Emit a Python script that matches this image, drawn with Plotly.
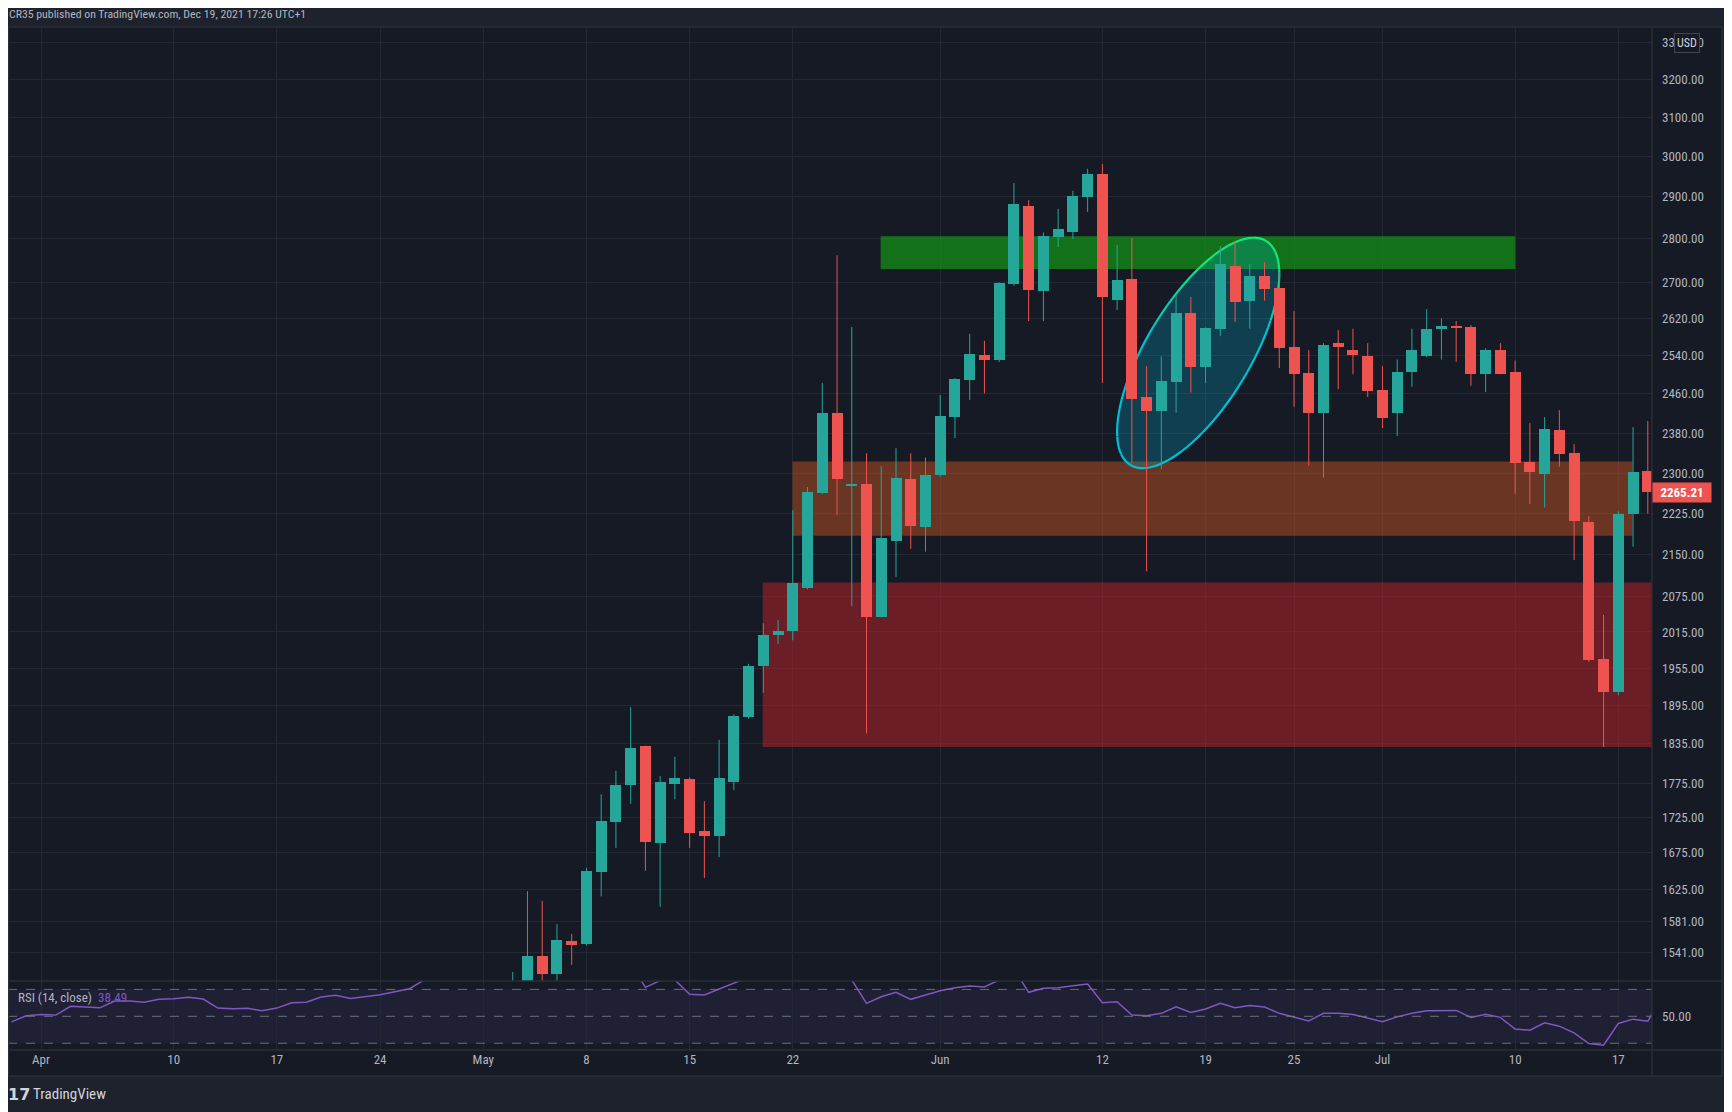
import math
import pandas as pd
import plotly.graph_objects as go

# ---------------- data ----------------
candle_dates = pd.date_range("2021-05-03", "2021-07-19", freq="D")

opens = [
    1470, 1480, 1536, 1513, 1556, 1552, 1649, 1719, 1773, 1831, 1689, 1774, 1782, 1706, 1699,
    1777, 1876, 1958, 2010, 2017, 2090, 2264, 2420, 2276, 2280, 2041, 2175, 2290, 2200,
    2297, 2413, 2488, 2540, 2531, 2697, 2878, 2680, 2805, 2815, 2900, 2956, 2660, 2707, 2453,
    2424, 2484, 2631, 2515, 2597, 2738, 2659, 2714, 2687, 2558, 2502, 2421, 2566, 2551, 2539,
    2467, 2421, 2504, 2538, 2596, 2603, 2601, 2501, 2551, 2505, 2323, 2300, 2386, 2340, 2209,
    1970, 1917, 2225, 2306,
]
highs = [
    1516, 1622, 1609, 1578, 1565, 1654, 1759, 1794, 1892, 1832, 1786, 1815, 1784, 1749, 1841,
    1881, 1962, 2030, 2035, 2231, 2275, 2482, 2762, 2601, 2340, 2315, 2350, 2340, 2332,
    2457, 2492, 2586, 2571, 2700, 2934, 2892, 2815, 2871, 2915, 2969, 2981, 2786, 2802, 2517,
    2538, 2674, 2667, 2600, 2783, 2793, 2742, 2746, 2725, 2636, 2551, 2566, 2594, 2597, 2566,
    2517, 2531, 2597, 2640, 2620, 2614, 2605, 2555, 2566, 2529, 2400, 2412, 2426, 2358, 2220,
    2044, 2229, 2392, 2404,
]
lows = [
    1440, 1465, 1495, 1500, 1525, 1550, 1615, 1682, 1745, 1650, 1601, 1752, 1682, 1640, 1669,
    1765, 1874, 1915, 1995, 2001, 2088, 2262, 2222, 2059, 1851, 2040, 2110, 2160, 2155,
    2295, 2370, 2447, 2460, 2526, 2692, 2614, 2614, 2781, 2800, 2864, 2482, 2638, 2322, 2120,
    2309, 2421, 2462, 2482, 2581, 2612, 2597, 2659, 2513, 2433, 2316, 2293, 2469, 2500, 2453,
    2390, 2374, 2474, 2536, 2531, 2526, 2476, 2463, 2500, 2262, 2243, 2236, 2314, 2140, 1965,
    1830, 1911, 2164, 2225,
]
closes = [
    1495, 1536, 1513, 1557, 1551, 1650, 1720, 1773, 1829, 1690, 1777, 1783, 1703, 1699, 1783,
    1878, 1958, 2010, 2017, 2100, 2266, 2420, 2290, 2280, 2041, 2180, 2292, 2202, 2298,
    2414, 2490, 2543, 2530, 2698, 2883, 2683, 2806, 2823, 2902, 2956, 2668, 2705, 2449, 2424,
    2486, 2631, 2515, 2599, 2742, 2656, 2714, 2685, 2556, 2500, 2421, 2562, 2558, 2541, 2465,
    2410, 2505, 2551, 2597, 2603, 2599, 2501, 2551, 2501, 2322, 2304, 2388, 2339, 2211, 1968,
    1917, 2225, 2304, 2265.21,
]

rsi_dates = pd.date_range("2021-03-30", "2021-07-20", freq="D")
rsi_values = [
    45.9, 50.4,
    51.4, 50.9, 57.4, 57.1, 56.3, 61.3, 61.3, 60.4, 62.6, 63.0, 64.1, 62.8, 56.1, 55.6, 55.9,
    54.1, 56.1, 60.1, 60.4, 64.3, 65.6, 63.3, 64.5, 66.0, 68.3, 70.5, 77, 78, 79, 80,
    81, 82, 82, 84, 83, 84, 84, 86, 88, 89, 89, 71.5, 76.5, 77, 66.3, 65.8, 70.3, 74.4,
    79, 81, 82, 85, 88, 90, 82, 77, 59.6, 64.5, 67.8, 62.6, 65.8,
    69.0, 71.2, 72.5, 71.8, 77, 85, 67.8, 70.8, 71.2, 72.7, 74.0, 60.1, 60.8, 50.9, 50.4,
    52.2, 57.1, 52.9, 55.4, 59.6, 56.3, 58.1, 56.9, 52.2, 49.6, 46.6, 52.2, 52.2, 51.4, 48.4,
    45.9, 49.6, 52.2, 54.1, 54.4, 54.4, 49.2, 51.6, 49.2, 40.5, 39.7, 45.2, 42.7, 37.7, 29.8,
    28.5, 44.7, 47.9, 46.4, 65,
]

price_ticks = [3300, 3200, 3100, 3000, 2900, 2800, 2700, 2620, 2540, 2460, 2380, 2300, 2225,
               2150, 2075, 2015, 1955, 1895, 1835, 1775, 1725, 1675, 1625, 1581, 1541]
price_tick_text = ["%.2f" % v for v in price_ticks]

date_ticks = ["2021-04-01", "2021-04-10", "2021-04-17", "2021-04-24", "2021-05-01",
              "2021-05-08", "2021-05-15", "2021-05-22", "2021-06-01", "2021-06-12",
              "2021-06-19", "2021-06-25", "2021-07-01", "2021-07-10", "2021-07-17"]
date_tick_text = ["Apr", "10", "17", "24", "May", "8", "15", "22", "Jun", "12", "19", "25",
                  "Jul", "10", "17"]

last_price = 2265.21
rsi_label_value = "38.49"

red_zone = dict(x0="2021-05-19 23:00", x1="2021-07-21", y0=1830, y1=2100)
orange_zone = dict(x0="2021-05-21 23:30", x1="2021-07-17 23:00", y0=2184, y1=2324)
green_zone = dict(x0="2021-05-27 23:00", x1="2021-07-10 00:15", y0=2730, y1=2806)
ellipse_center = ("2021-06-18 12:00", 2545)

# ---------------- style ----------------
FONT = "Liberation Sans Narrow, Roboto Condensed, Arial Narrow, Roboto, sans-serif"
UP = "#26a69a"
DOWN = "#ef5350"
BG = "#161a25"
OUTER = "#1e222d"
GRID = "#242835"
BORDER = "#2a2e39"
TXT = "#b2b5be"

X_RANGE = ["2021-03-29 18:15", "2021-07-19 06:50"]
Y_RANGE = [math.log10(1504.6), math.log10(3343.2)]

# the page places the figure 8px in from the window's top-left corner
OFF = 8
W, H = 1732 - OFF, 1112 - OFF
L, T = 8 - OFF, 27 - OFF
PW, PH = 1644, 1023
R, B = W - L - PW, H - T - PH


def px_x(px):
    """window pixel x -> paper x"""
    return (px - OFF - L) / PW


def px_y(py):
    """window pixel y -> paper y"""
    return (T + PH - (py - OFF)) / PH


split = px_y(981)

fig = go.Figure()

# wicks
for is_up, col in ((True, UP), (False, DOWN)):
    xs, ys = [], []
    for d, o, h, l, c in zip(candle_dates, opens, highs, lows, closes):
        if (c >= o) == is_up:
            xs += [d, d, None]
            ys += [l, h, None]
    fig.add_trace(go.Scatter(x=xs, y=ys, mode="lines", line=dict(color=col, width=1),
                             hoverinfo="skip", xaxis="x", yaxis="y"))

# bodies
body_base = [min(o, c) for o, c in zip(opens, closes)]
body_len = [abs(c - o) for o, c in zip(opens, closes)]
body_col = [UP if c >= o else DOWN for o, c in zip(opens, closes)]
fig.add_trace(go.Bar(x=candle_dates, y=body_len, base=body_base,
                     width=0.746 * 86400000, marker=dict(color=body_col, line=dict(width=0)),
                     xaxis="x", yaxis="y", hoverinfo="skip"))

# RSI
fig.add_trace(go.Scatter(x=rsi_dates, y=rsi_values, mode="lines",
                         line=dict(color="#7e57c2", width=1.5), xaxis="x2", yaxis="y2",
                         hoverinfo="skip"))

shapes = []
# chart background incl. axis strips
shapes.append(dict(type="rect", xref="paper", yref="paper", x0=px_x(8), x1=px_x(1722),
                   y0=px_y(1076), y1=px_y(27), fillcolor=BG, line=dict(width=0), layer="below"))

# zones (above the grid, below the candles)
ZL = "between"
shapes.append(dict(type="rect", xref="x", yref="y", **red_zone,
                   fillcolor="rgba(192,34,40,0.5)", line=dict(width=0), layer=ZL))
shapes.append(dict(type="rect", xref="x", yref="y", **orange_zone,
                   fillcolor="rgba(190,80,32,0.5)", line=dict(width=0), layer=ZL))
shapes.append(dict(type="rect", xref="x", yref="y", **green_zone,
                   fillcolor="rgba(19,146,21,0.74)", line=dict(width=0), layer=ZL))

# ellipse (rotated) drawn in pixel units around a data anchor
ea, eb, eth = 131, 52, math.radians(58.8)
NPT = 96


def ell_pt(t):
    ct, st = math.cos(t), math.sin(t)
    return (ea * ct * math.cos(eth) - eb * st * math.sin(eth),
            ea * ct * math.sin(eth) + eb * st * math.cos(eth))


pts = [ell_pt(2 * math.pi * i / NPT) for i in range(NPT + 1)]
ell_common = dict(type="path", xref="x", yref="y", xsizemode="pixel", ysizemode="pixel",
                  xanchor=ellipse_center[0], yanchor=ellipse_center[1], layer=ZL)
shapes.append(dict(**ell_common,
                   path="M " + " L ".join("%.2f,%.2f" % p for p in pts[:-1]) + " Z",
                   fillcolor="rgba(0,188,212,0.24)", line=dict(width=0)))
step = 4
for i in range(0, NPT, step):
    seg = pts[i:i + step + 1]
    ymid = seg[len(seg) // 2][1]
    f = min(1.0, max(0.0, (ymid - 15) / 75))
    col = "rgb(%d,%d,%d)" % (int(0 + f * 20), int(190 + f * 40), int(214 - f * 92))
    shapes.append(dict(**ell_common, path="M " + " L ".join("%.2f,%.2f" % p for p in seg),
                       line=dict(color=col, width=2.2)))

# RSI band + levels
shapes.append(dict(type="rect", xref="paper", yref="y2", x0=0, x1=1, y0=30, y1=70,
                   fillcolor="rgba(126,87,194,0.10)", line=dict(width=0), layer="below"))
for lvl in (70, 50, 30):
    shapes.append(dict(type="line", xref="paper", yref="y2", x0=0, x1=1, y0=lvl, y1=lvl,
                       line=dict(color="rgba(120,123,134,0.85)", width=1, dash="dash")))

# frame / separators
for (x0, y0, x1, y1) in [(8, 27, 1722, 27), (8, 1076, 1722, 1076), (8.5, 27, 8.5, 1076),
                         (1722, 27, 1722, 1076), (1652, 27, 1652, 1076),
                         (8, 981, 1722, 981), (8, 1050, 1722, 1050)]:
    shapes.append(dict(type="line", xref="paper", yref="paper", x0=px_x(x0), x1=px_x(x1),
                       y0=px_y(y0), y1=px_y(y1), line=dict(color=BORDER, width=1.5),
                       layer="above"))

annotations = [
    dict(text="CR35 published on TradingView.com, Dec 19, 2021 17:26 UTC+1", xref="paper",
         yref="paper", x=px_x(7), y=px_y(14), xanchor="left", yanchor="middle",
         showarrow=False, font=dict(family=FONT, size=11.8, color=TXT)),
    dict(text="RSI (14, close)  <span style='color:#7e57c2'>%s</span>" % rsi_label_value,
         xref="paper", yref="paper", x=px_x(16), y=px_y(997), xanchor="left",
         yanchor="middle", showarrow=False, font=dict(family=FONT, size=13, color=TXT)),
    dict(text="<b>%.2f</b>" % last_price, xref="paper", yref="y", x=px_x(1652),
         y=math.log10(last_price), xanchor="left", yanchor="middle", showarrow=False,
         bgcolor=DOWN, borderpad=2, width=54, align="center",
         font=dict(family=FONT, size=13, color="#ffffff")),
    dict(text="USD", xref="paper", yref="paper", x=px_x(1687), y=px_y(43), xanchor="center",
         yanchor="middle", showarrow=False, bgcolor=BG, bordercolor="#434651",
         borderwidth=1, borderpad=2, font=dict(family=FONT, size=12, color="#d1d4dc")),
    dict(text="<b>17</b>", xref="paper", yref="paper", x=px_x(6), y=px_y(1094),
         xanchor="left", yanchor="middle", showarrow=False,
         font=dict(family="DejaVu Sans", size=16, color="#d1d4dc")),
    dict(text="TradingView", xref="paper", yref="paper", x=px_x(31), y=px_y(1094),
         xanchor="left", yanchor="middle", showarrow=False,
         font=dict(family=FONT, size=15, color="#d1d4dc")),
]

axis_font = dict(family=FONT, size=13, color=TXT)
fig.update_layout(
    width=W, height=H,
    margin=dict(l=L, r=R, t=T, b=B, pad=0),
    paper_bgcolor=OUTER, plot_bgcolor=BG,
    showlegend=False, hovermode=False, bargap=0,
    shapes=shapes, annotations=annotations,
    xaxis=dict(domain=[0, 1], anchor="y", type="date", range=X_RANGE, tickvals=date_ticks,
               showticklabels=False, showgrid=True, gridcolor=GRID, gridwidth=1,
               zeroline=False, showline=False, ticks=""),
    xaxis2=dict(domain=[0, 1], anchor="y2", type="date", range=X_RANGE, tickvals=date_ticks,
                ticktext=date_tick_text, showgrid=True, gridcolor=GRID, gridwidth=1,
                zeroline=False, showline=False, ticks="", tickfont=axis_font),
    yaxis=dict(domain=[split, 1], anchor="x", type="log", range=Y_RANGE, side="right",
               tickvals=price_ticks, ticktext=price_tick_text, showgrid=True, gridcolor=GRID,
               gridwidth=1, zeroline=False, showline=False, ticks="", tickfont=axis_font,
               ticklabelstandoff=9),
    yaxis2=dict(domain=[0, split], anchor="x2", range=[25, 76.2], side="right",
                tickvals=[50], ticktext=["50.00"], showgrid=False, zeroline=False,
                showline=False, ticks="", tickfont=axis_font, ticklabelstandoff=9),
)

fig.write_html("out.html")
